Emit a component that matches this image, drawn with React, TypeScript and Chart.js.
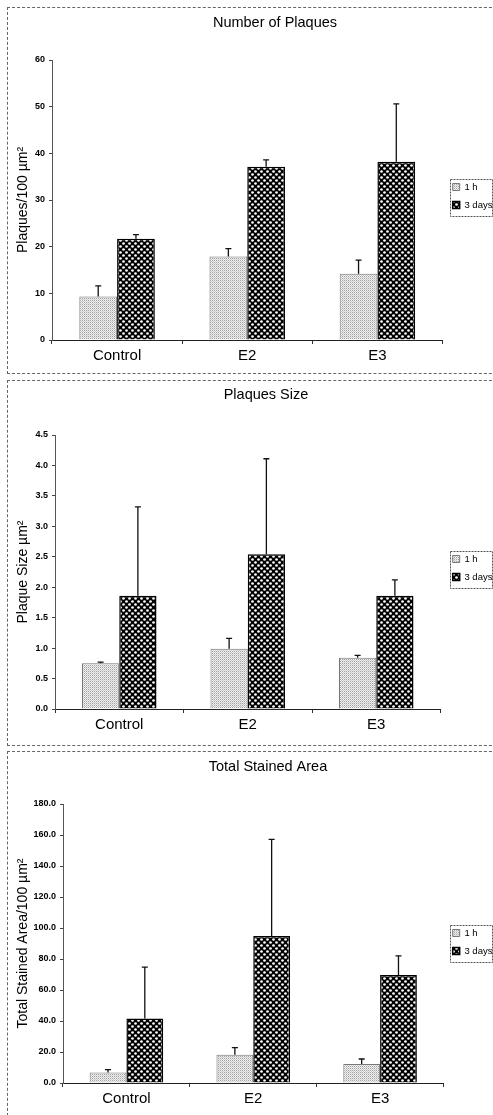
import React, { useEffect, useRef } from 'react';
import { Chart, registerables } from 'chart.js';

Chart.register(...registerables);

const FONT = "'Liberation Sans', Arial, sans-serif";

const categories = ['Control', 'E2', 'E3'];
const seriesLabels = ['1 h', '3 days'];

const plaqueCount1h = [9.3, 17.9, 14.2];
const plaqueCount3d = [21.7, 37.1, 38.2];
const plaqueCountErr1h = [2.3, 1.7, 2.9];
const plaqueCountErr3d = [0.9, 1.5, 12.4];
const plaqueCountTicks = [0, 10, 20, 30, 40, 50, 60];

const plaqueSize1h = [0.75, 0.99, 0.84];
const plaqueSize3d = [1.86, 2.54, 1.86];
const plaqueSizeErr1h = [0.02, 0.17, 0.04];
const plaqueSizeErr3d = [1.46, 1.57, 0.26];
const plaqueSizeTicks = [0, 0.5, 1.0, 1.5, 2.0, 2.5, 3.0, 3.5, 4.0, 4.5];

const stainedArea1h = [6.8, 18.2, 12.2];
const stainedArea3d = [41.6, 94.9, 69.6];
const stainedAreaErr1h = [1.8, 4.6, 3.3];
const stainedAreaErr3d = [33.1, 62.3, 12.4];
const stainedAreaTicks = [0, 20, 40, 60, 80, 100, 120, 140, 160, 180];

function makeLightPattern(): CanvasPattern | string {
  const c = document.createElement('canvas');
  c.width = 2;
  c.height = 2;
  const g = c.getContext('2d');
  if (!g) return '#ddd';
  g.fillStyle = '#f0f0f0';
  g.fillRect(0, 0, 2, 2);
  g.fillStyle = '#a0a0a0';
  g.fillRect(0, 0, 1, 1);
  g.fillStyle = '#cccccc';
  g.fillRect(1, 1, 1, 1);
  return g.createPattern(c, 'repeat') || '#ddd';
}

function makeDarkPattern(): CanvasPattern | string {
  const c = document.createElement('canvas');
  c.width = 6;
  c.height = 6;
  const g = c.getContext('2d');
  if (!g) return '#333';
  g.fillStyle = '#000';
  g.fillRect(0, 0, 6, 6);
  g.fillStyle = '#fff';
  g.beginPath();
  g.arc(1.5, 1.5, 1.35, 0, Math.PI * 2);
  g.fill();
  g.beginPath();
  g.arc(4.5, 4.5, 1.35, 0, Math.PI * 2);
  g.fill();
  return g.createPattern(c, 'repeat') || '#333';
}

interface PanelCfg {
  title: string;
  yTitle: string;
  v1h: number[];
  v3d: number[];
  e1h: number[];
  e3d: number[];
  ticks: number[];
  decimals: number;
  top: number;
  height: number;
  titleCenter: number;
  titleX: number;
  chartTop: number;
  chartBottom: number;
  chartLeft: number;
  chartRight: number;
  legendY: number;
}

const CANVAS_W = 500;
const VIEW_RIGHT = 484; // canvas x of the visible right edge
const LEGEND_X = 444.7; // canvas x of the legend swatches
const TITLE_SIZE = 14.5;
const LEG_PAD = 8.5;
const LEG_BOX = 7;
const LEG_FONT = 9.5;

function Panel({ cfg }: { cfg: PanelCfg }) {
  const ref = useRef<HTMLCanvasElement>(null);
  const canvasH = cfg.height - 2;

  useEffect(() => {
    const canvas = ref.current;
    if (!canvas) return;
    const m = document.createElement('canvas').getContext('2d');
    let textW = 28;
    if (m) {
      m.font = `${LEG_FONT}px ${FONT}`;
      textW = Math.max(m.measureText(seriesLabels[0]).width, m.measureText(seriesLabels[1]).width);
    }
    const legendW = 2 * LEG_PAD + LEG_BOX + LEG_FONT / 2 + textW + 2;
    const padRight = CANVAS_W - cfg.chartRight - legendW;
    const lh = TITLE_SIZE * 1.2;

    const errorBars = {
      id: 'errorBars',
      afterDatasetsDraw(chart: any) {
        const ctx = chart.ctx;
        const ys = chart.scales.y;
        chart.data.datasets.forEach((ds: any, di: number) => {
          const meta = chart.getDatasetMeta(di);
          meta.data.forEach((bar: any, i: number) => {
            const v = ds.data[i];
            const e = ds.errors[i];
            const x = bar.x;
            const yb = ys.getPixelForValue(v);
            const yt = ys.getPixelForValue(v + e);
            ctx.save();
            ctx.strokeStyle = '#111';
            ctx.lineWidth = 1.3;
            ctx.beginPath();
            ctx.moveTo(x, yb);
            ctx.lineTo(x, yt);
            ctx.moveTo(x - 3, yt);
            ctx.lineTo(x + 3, yt);
            ctx.stroke();
            ctx.restore();
          });
        });
      },
    };

    const layoutTweaks = {
      id: 'layoutTweaks',
      afterLayout(chart: any) {
        const tb = chart.titleBlock;
        if (tb) {
          const w = tb.right - tb.left;
          tb.left = cfg.titleX - w / 2;
          tb.right = cfg.titleX + w / 2;
        }
      },
      afterUpdate(chart: any) {
        const lg = chart.legend;
        const hb = lg && lg.legendHitBoxes;
        if (!hb || !hb.length) return;
        const dy = cfg.legendY - (hb[0].top + hb[0].height / 2);
        const dx = LEGEND_X - hb[0].left;
        lg.top += dy;
        lg.bottom += dy;
        lg.left += dx;
        lg.right += dx;
        hb.forEach((h: any) => {
          h.top += dy;
          h.left += dx;
        });
      },
    };

    const legendBorder = {
      id: 'legendBorder',
      afterDraw(chart: any) {
        const ctx = chart.ctx;
        const x0 = Math.round(LEGEND_X - 3);
        const y0 = Math.round(cfg.legendY - 8);
        const y1 = Math.round(cfg.legendY + 29);
        ctx.save();
        ctx.strokeStyle = '#555';
        ctx.lineWidth = 1;
        ctx.setLineDash([2, 1]);
        ctx.strokeRect(x0 + 0.5, y0 + 0.5, VIEW_RIGHT - x0, y1 - y0);
        ctx.restore();
      },
    };

    const chart = new Chart(canvas, {
      type: 'bar',
      data: {
        labels: categories,
        datasets: [
          {
            label: seriesLabels[0],
            data: cfg.v1h,
            errors: cfg.e1h,
            backgroundColor: makeLightPattern(),
            borderColor: '#777',
            borderWidth: 1,
            categoryPercentage: 0.58,
            barPercentage: 1.0,
          } as any,
          {
            label: seriesLabels[1],
            data: cfg.v3d,
            errors: cfg.e3d,
            backgroundColor: makeDarkPattern(),
            borderColor: '#000',
            borderWidth: 1.5,
            categoryPercentage: 0.58,
            barPercentage: 1.0,
          } as any,
        ],
      },
      options: {
        responsive: false,
        animation: false,
        devicePixelRatio: 1,
        layout: { padding: { left: 0, right: padRight, top: 0, bottom: 0 } },
        font: { family: FONT },
        plugins: {
          title: {
            display: true,
            text: cfg.title,
            color: '#000',
            font: { family: FONT, size: TITLE_SIZE, weight: 'normal', lineHeight: 1.2 },
            padding: {
              top: cfg.titleCenter - lh / 2,
              bottom: cfg.chartTop - cfg.titleCenter - lh / 2,
            },
          },
          legend: {
            display: true,
            position: 'right',
            align: 'center',
            labels: {
              boxWidth: LEG_BOX,
              boxHeight: LEG_BOX,
              padding: LEG_PAD,
              color: '#000',
              font: { family: FONT, size: LEG_FONT },
            },
          },
          tooltip: { enabled: false },
        },
        scales: {
          x: {
            grid: {
              display: true,
              offset: true,
              drawOnChartArea: false,
              drawTicks: true,
              tickLength: 4,
              color: '#333',
            },
            border: { display: true, color: '#222', width: 1 },
            ticks: {
              color: '#000',
              padding: 3,
              font: { family: FONT, size: 15 },
            },
            afterFit: (s: any) => {
              s.height = canvasH - cfg.chartBottom;
            },
          },
          y: {
            min: 0,
            max: cfg.ticks[cfg.ticks.length - 1],
            afterBuildTicks: (s: any) => {
              s.ticks = cfg.ticks.map((v) => ({ value: v }));
            },
            grid: {
              display: true,
              drawOnChartArea: false,
              drawTicks: true,
              tickLength: 3,
              color: '#444',
            },
            border: { display: true, color: '#555', width: 1, dash: [3, 1] },
            ticks: {
              color: '#000',
              padding: 4,
              font: { family: FONT, size: 9, weight: 'bold' },
              callback: (v: any) => Number(v).toFixed(cfg.decimals),
            },
            title: {
              display: true,
              text: cfg.yTitle,
              color: '#000',
              font: { family: FONT, size: 14, lineHeight: 1.2 },
              padding: { top: 6.6, bottom: 0 },
            },
            afterFit: (s: any) => {
              s.width = cfg.chartLeft;
            },
          },
        },
      } as any,
      plugins: [errorBars, layoutTweaks, legendBorder],
    });
    return () => chart.destroy();
  }, []);

  return (
    <div
      style={{
        position: 'absolute',
        left: 7,
        top: cfg.top,
        width: 510,
        height: cfg.height,
        border: '1px dashed #666',
        boxSizing: 'border-box',
        background: '#fff',
      }}
    >
      <canvas
        ref={ref}
        width={CANVAS_W}
        height={canvasH}
        style={{ display: 'block', width: CANVAS_W, height: canvasH }}
      />
    </div>
  );
}

const panels: PanelCfg[] = [
  {
    title: 'Number of Plaques',
    yTitle: 'Plaques/100 µm²',
    v1h: plaqueCount1h,
    v3d: plaqueCount3d,
    e1h: plaqueCountErr1h,
    e3d: plaqueCountErr3d,
    ticks: plaqueCountTicks,
    decimals: 0,
    top: 7,
    height: 367,
    titleCenter: 15,
    titleX: 267,
    chartTop: 52,
    chartBottom: 332,
    chartLeft: 44,
    chartRight: 434,
    legendY: 179,
  },
  {
    title: 'Plaques Size',
    yTitle: 'Plaque Size µm²',
    v1h: plaqueSize1h,
    v3d: plaqueSize3d,
    e1h: plaqueSizeErr1h,
    e3d: plaqueSizeErr3d,
    ticks: plaqueSizeTicks,
    decimals: 1,
    top: 380,
    height: 366,
    titleCenter: 14,
    titleX: 258,
    chartTop: 54,
    chartBottom: 328,
    chartLeft: 47,
    chartRight: 432,
    legendY: 178,
  },
  {
    title: 'Total Stained Area',
    yTitle: 'Total Stained Area/100 µm²',
    v1h: stainedArea1h,
    v3d: stainedArea3d,
    e1h: stainedAreaErr1h,
    e3d: stainedAreaErr3d,
    ticks: stainedAreaTicks,
    decimals: 1,
    top: 751,
    height: 370,
    titleCenter: 15,
    titleX: 260,
    chartTop: 52,
    chartBottom: 331,
    chartLeft: 55,
    chartRight: 435,
    legendY: 181,
  },
];

export default function App() {
  return (
    <div style={{ position: 'relative', width: 493, height: 1115, overflow: 'hidden' }}>
      <style>{`body{margin:0;overflow:hidden;background:#fff}`}</style>
      {panels.map((p, i) => (
        <Panel key={i} cfg={p} />
      ))}
    </div>
  );
}
